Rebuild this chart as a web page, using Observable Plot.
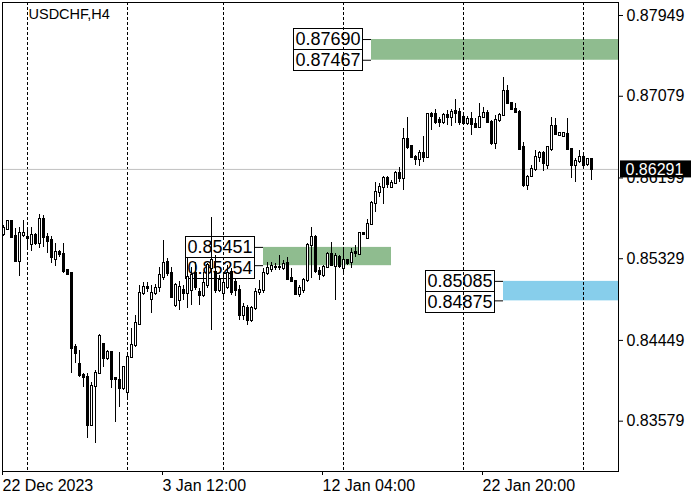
<!DOCTYPE html>
<html>
<head>
<meta charset="utf-8">
<script src="https://cdn.jsdelivr.net/npm/d3@7"></script>
<script src="https://cdn.jsdelivr.net/npm/@observablehq/plot@0.6"></script>
<style>
  html, body { margin: 0; padding: 0; background: #fff; }
  #chart svg { display: block; }
</style>
</head>
<body>
<div id="chart"></div>
<script>
// ---- Data (USDCHF, H4) ----
const symbolTitle = "USDCHF,H4";
const open = [0.85590,0.85644,0.85730,0.85569,0.85299,0.85580,0.85558,0.85482,0.85580,0.85493,
0.85752,0.85558,0.85526,0.85321,0.85396,0.85375,0.85202,0.85170,0.84373,0.84190,
0.84072,0.84050,0.83533,0.83953,0.84093,0.84405,0.84255,0.84319,0.84039,0.84018,
0.83932,0.83888,0.84265,0.84395,0.84621,0.84955,0.85020,0.84890,0.84955,0.85020,
0.85127,0.85289,0.85170,0.84826,0.84880,0.84987,0.84955,0.84987,0.85170,0.84966,
0.84933,0.85041,0.85224,0.85181,0.84987,0.84955,0.85020,0.85181,0.85073,0.84987,
0.84718,0.84793,0.84664,0.84793,0.84966,0.84987,0.85170,0.85213,0.85235,0.85230,
0.85224,0.85278,0.85116,0.85084,0.84944,0.84987,0.85095,0.85472,0.85558,0.85192,
0.85149,0.85235,0.85375,0.85246,0.85343,0.85224,0.85310,0.85289,0.85396,0.85375,
0.85601,0.85547,0.85698,0.85924,0.86043,0.86097,0.86193,0.86097,0.86140,0.86247,
0.86193,0.86613,0.86538,0.86420,0.86398,0.86463,0.86420,0.86883,0.86883,0.86819,
0.86797,0.86872,0.86851,0.86915,0.86905,0.86851,0.86786,0.86829,0.86775,0.86743,
0.86851,0.86894,0.86797,0.86570,0.86819,0.86872,0.87131,0.87001,0.86937,0.86905,
0.86527,0.86118,0.86215,0.86290,0.86420,0.86463,0.86334,0.86506,0.86754,0.86657,
0.86646,0.86668,0.86506,0.86334,0.86377,0.86420,0.86344,0.86398];
const high = [0.85687,0.85741,0.85741,0.85655,0.85666,0.85741,0.85666,0.85666,0.85601,0.85806,
0.85795,0.85601,0.85569,0.85493,0.85418,0.85493,0.85213,0.85175,0.84405,0.84341,
0.84093,0.84093,0.83996,0.84125,0.84513,0.84416,0.84341,0.84330,0.84050,0.84319,
0.84169,0.84287,0.84578,0.84718,0.85041,0.85073,0.85073,0.85041,0.85052,0.85235,
0.85526,0.85332,0.85235,0.85063,0.85084,0.85041,0.85332,0.85235,0.85289,0.85009,
0.85181,0.85278,0.85773,0.85364,0.85149,0.85149,0.85256,0.85224,0.85116,0.85041,
0.84847,0.84826,0.84815,0.85009,0.85095,0.85224,0.85289,0.85289,0.85278,0.85364,
0.85310,0.85343,0.85224,0.85095,0.85041,0.85116,0.85493,0.85666,0.85580,0.85235,
0.85256,0.85396,0.85504,0.85386,0.85364,0.85439,0.85321,0.85439,0.85472,0.85612,
0.85612,0.85752,0.85946,0.86150,0.86140,0.86215,0.86215,0.86172,0.86269,0.86312,
0.86732,0.86851,0.86549,0.86441,0.86495,0.86646,0.86894,0.86905,0.86937,0.86851,
0.86894,0.86926,0.86937,0.87044,0.86948,0.86872,0.86862,0.86905,0.86840,0.87001,
0.86958,0.86926,0.86819,0.86872,0.86894,0.87282,0.87195,0.87012,0.87001,0.86926,
0.86581,0.86226,0.86334,0.86495,0.86484,0.86484,0.86538,0.86851,0.86840,0.86689,
0.86689,0.86840,0.86517,0.86409,0.86495,0.86463,0.86409,0.86409];
const low = [0.85569,0.85633,0.85547,0.85289,0.85138,0.85558,0.85450,0.85407,0.85472,0.85439,
0.85450,0.85386,0.85278,0.85246,0.85343,0.85170,0.85149,0.84093,0.84201,0.84050,
0.83942,0.83393,0.83522,0.83339,0.84082,0.84158,0.84233,0.83932,0.83565,0.83727,
0.83910,0.83802,0.84255,0.84373,0.84610,0.84933,0.84966,0.84739,0.84933,0.84966,
0.85095,0.85138,0.84901,0.84804,0.84772,0.84880,0.84793,0.84826,0.84987,0.84826,
0.84912,0.85009,0.84556,0.84955,0.84966,0.84901,0.84998,0.84933,0.84923,0.84664,
0.84664,0.84610,0.84643,0.84772,0.84933,0.84955,0.85149,0.85181,0.85202,0.85202,
0.85202,0.85095,0.85073,0.84933,0.84912,0.84955,0.85073,0.85116,0.85170,0.85095,
0.85127,0.85224,0.85246,0.84880,0.85224,0.85170,0.85256,0.85224,0.85343,0.85364,
0.85580,0.85537,0.85687,0.85827,0.85989,0.85913,0.86086,0.86086,0.86129,0.86150,
0.86064,0.86506,0.86409,0.86334,0.86323,0.86366,0.86409,0.86711,0.86775,0.86743,
0.86775,0.86765,0.86754,0.86786,0.86765,0.86765,0.86765,0.86657,0.86732,0.86732,
0.86840,0.86786,0.86549,0.86506,0.86797,0.86862,0.86991,0.86926,0.86894,0.86495,
0.86097,0.86064,0.86204,0.86269,0.86366,0.86269,0.86290,0.86484,0.86657,0.86646,
0.86646,0.86495,0.86193,0.86150,0.86355,0.86312,0.86323,0.86172];
const close = [0.85655,0.85730,0.85558,0.85299,0.85601,0.85601,0.85552,0.85580,0.85493,0.85752,
0.85558,0.85515,0.85343,0.85396,0.85375,0.85192,0.85159,0.84362,0.84308,0.84072,
0.84050,0.83533,0.83953,0.84093,0.84492,0.84255,0.84319,0.84028,0.84028,0.83932,
0.84158,0.84265,0.84395,0.84632,0.84955,0.85020,0.85009,0.84955,0.85009,0.85149,
0.85278,0.85170,0.84912,0.85041,0.85020,0.84955,0.85127,0.85149,0.85020,0.84933,
0.85063,0.85256,0.85310,0.84987,0.85095,0.85063,0.85170,0.84966,0.84987,0.84718,
0.84804,0.84664,0.84793,0.84966,0.84987,0.85170,0.85224,0.85246,0.85230,0.85235,
0.85267,0.85105,0.85084,0.84944,0.85009,0.85095,0.85472,0.85558,0.85192,0.85159,
0.85235,0.85375,0.85256,0.85353,0.85246,0.85310,0.85278,0.85386,0.85386,0.85601,
0.85590,0.85698,0.85924,0.86043,0.86097,0.86193,0.86129,0.86140,0.86247,0.86193,
0.86613,0.86527,0.86420,0.86398,0.86463,0.86420,0.86883,0.86862,0.86797,0.86797,
0.86872,0.86851,0.86905,0.86894,0.86797,0.86786,0.86829,0.86775,0.86743,0.86851,
0.86894,0.86797,0.86570,0.86819,0.86872,0.87131,0.87001,0.86937,0.86905,0.86506,
0.86118,0.86204,0.86290,0.86420,0.86463,0.86355,0.86527,0.86754,0.86668,0.86679,
0.86679,0.86506,0.86334,0.86377,0.86420,0.86334,0.86398,0.86291];

// price axis ticks (right) and time axis ticks (bottom, by bar index)
const priceTicks = [0.87949, 0.87079, 0.86199, 0.85329, 0.84449, 0.83579];
const timeTickBars = [0, 40, 80, 120];
const timeTickLabels = ["22 Dec 2023", "3 Jan 12:00", "12 Jan 04:00", "22 Jan 20:00"];
// weekly period separators (bar index)
const separatorBars = [6, 31, 55, 85, 115, 145];
// current bid
const lastPrice = 0.86291;
// zones: upper price, lower price, start bar, end bar (null = to the right edge), colour
const zoneHigh  = [0.87690, 0.85451, 0.85085];
const zoneLow   = [0.87467, 0.85254, 0.84875];
const zoneStart = [92, 65, 125];
const zoneEnd   = [null, 97, null];
const zoneColor = ["#8fbc8f", "#8fbc8f", "#87ceeb"];

// ---- Build tables ----
const bars = open.map((o, i) => ({i, open: o, high: high[i], low: low[i], close: close[i]}));
const xDomain = [-0.25, 153.75];
const zones = zoneHigh.map((h, k) => ({
  hi: h, lo: zoneLow[k], start: zoneStart[k],
  end: zoneEnd[k] == null ? xDomain[1] : zoneEnd[k], color: zoneColor[k]
}));
const fmt = d => d.toFixed(5);
const boxL = z => z.start - 19.5;   // label boxes sit left of each zone
const boxR = z => z.start - 2.25;
const boxC = z => (boxL(z) + boxR(z)) / 2;

const font = "'Liberation Sans', Arial, sans-serif";

const chart = Plot.plot({
  width: 700,
  height: 500,
  marginLeft: 2,
  marginRight: 82,
  marginTop: 2,
  marginBottom: 29,
  style: {fontFamily: font, fontSize: "16px", background: "#fff", color: "#000"},
  x: {type: "linear", domain: xDomain, axis: null},
  y: {domain: [0.83037, 0.88089], axis: null},
  marks: [
    // zones
    Plot.rect(zones, {x1: "start", x2: "end", y1: "hi", y2: "lo", fill: "color"}),
    // label boxes (upper one centred on the upper price, lower one stacked below)
    Plot.rect(zones, {x1: z => boxL(z) + 0.125, x2: z => boxR(z) + 0.125, y1: "hi", y2: "hi",
      fill: "#fff", stroke: "#000", insetTop: -10.5, insetBottom: -10.5, shapeRendering: "crispEdges"}),
    Plot.rect(zones, {x1: z => boxL(z) + 0.125, x2: z => boxR(z) + 0.125, y1: "hi", y2: "hi",
      fill: "#fff", stroke: "#000", insetTop: 10.5, insetBottom: -31.5, shapeRendering: "crispEdges"}),
    Plot.text(zones, {x: boxC, y: "hi", text: d => fmt(d.hi), fontSize: 18, fill: "#000",
      textAnchor: "middle", dy: 0}),
    Plot.text(zones, {x: boxC, y: "hi", text: d => fmt(d.lo), fontSize: 18, fill: "#000",
      textAnchor: "middle", dy: 21}),
    Plot.ruleY(zones, {y: "hi", x1: boxR, x2: "start", stroke: "#000"}),
    Plot.ruleY(zones, {y: "lo", x1: boxR, x2: "start", stroke: "#000"}),
    // period separators
    Plot.ruleX(separatorBars, {x: d => d, stroke: "#000", strokeDasharray: "3,2"}),
    // bid line
    Plot.ruleY([lastPrice], {stroke: "#c0c0c0"}),
    // candles
    Plot.ruleX(bars, {x: "i", y1: "low", y2: "high", stroke: "#000", shapeRendering: "crispEdges"}),
    Plot.rect(bars, {
      x1: d => d.i - 0.125, x2: d => d.i + 0.375, y1: "open", y2: "close",
      fill: d => d.close >= d.open ? "#fff" : "#000", stroke: "#000",
      insetTop: -0.5, insetBottom: -0.5, shapeRendering: "crispEdges"
    }),
    // title
    Plot.text([symbolTitle], {frameAnchor: "top-left", dx: 26, dy: 6, textAnchor: "start",
      lineAnchor: "top", fontSize: 14.5, fill: "#000"}),
    Plot.frame({stroke: "#000"}),
    // axes
    Plot.axisY({anchor: "right", ticks: priceTicks, tickFormat: fmt, tickSize: 4,
      tickPadding: 4, fontSize: 16, label: null}),
    Plot.axisX({anchor: "bottom", ticks: timeTickBars,
      tickFormat: d => timeTickLabels[timeTickBars.indexOf(d)], tickSize: 4,
      tickPadding: 4, textAnchor: "start", dx: -1, fontSize: 16, label: null}),
    // current price tag (drawn over the hidden 0.86199 axis label, as in the terminal)
    Plot.rect([lastPrice], {x1: () => xDomain[1], x2: () => xDomain[1], y1: d => d, y2: d => d,
      fill: "#000", insetLeft: 2, insetRight: -73, insetTop: -8.5, insetBottom: -8.5}),
    Plot.text([lastPrice], {x: () => xDomain[1], y: d => d, text: fmt, fill: "#fff",
      textAnchor: "start", dx: 7, fontSize: 16})
  ]
});
document.getElementById("chart").appendChild(chart);
</script>
</body>
</html>
